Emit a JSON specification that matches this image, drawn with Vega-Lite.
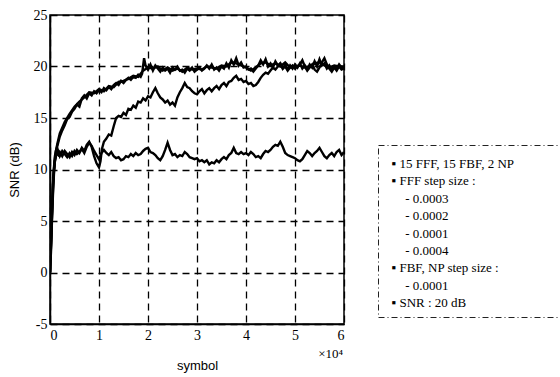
{
  "$schema": "https://vega.github.io/schema/vega-lite/v6.json",
  "background": "white",
  "padding": {"left": 7, "top": 7, "right": 0, "bottom": 0},
  "bounds": "flush",
  "spacing": 34,
  "config": {
    "font": "Times New Roman, Liberation Serif, serif",
    "axis": {
      "labelColor": "black",
      "titleFont": "Arial, Liberation Sans, sans-serif",
      "titleFontSize": 13,
      "titleFontWeight": "normal",
      "titleColor": "black",
      "domainColor": "black",
      "domainWidth": 1.5,
      "ticks": false,
      "grid": true,
      "gridColor": "black",
      "gridOpacity": 1,
      "gridDash": [7, 5],
      "gridWidth": 1.3
    }
  },
  "hconcat": [
    {
      "width": 294,
      "height": 309,
      "view": {"stroke": "black", "strokeWidth": 1.5},
      "layer": [
        {
          "data": {"values": [
{"series":"A","symbol":0,"snr":0},{"series":"A","symbol":0.02,"snr":3},{"series":"A","symbol":0.04,"snr":6},{"series":"A","symbol":0.06,"snr":8.5},{"series":"A","symbol":0.08,"snr":10},{"series":"A","symbol":0.1,"snr":11},{"series":"A","symbol":0.12,"snr":11.8},{"series":"A","symbol":0.15,"snr":12.3},{"series":"A","symbol":0.2,"snr":13.2},{"series":"A","symbol":0.25,"snr":13.8},{"series":"A","symbol":0.3,"snr":14.3},{"series":"A","symbol":0.35,"snr":14.9},{"series":"A","symbol":0.4,"snr":15.1},{"series":"A","symbol":0.45,"snr":15.6},{"series":"A","symbol":0.5,"snr":15.9},{"series":"A","symbol":0.55,"snr":16.3},{"series":"A","symbol":0.6,"snr":16.1},{"series":"A","symbol":0.65,"snr":16.9},{"series":"A","symbol":0.7,"snr":17.2},{"series":"A","symbol":0.75,"snr":16.9},{"series":"A","symbol":0.8,"snr":17.4},{"series":"A","symbol":0.85,"snr":17.2},{"series":"A","symbol":0.9,"snr":17.6},{"series":"A","symbol":0.95,"snr":17.4},{"series":"A","symbol":1.0,"snr":17.7},{"series":"A","symbol":1.05,"snr":17.5},{"series":"A","symbol":1.1,"snr":17.9},{"series":"A","symbol":1.15,"snr":17.7},{"series":"A","symbol":1.2,"snr":18.0},{"series":"A","symbol":1.25,"snr":17.8},{"series":"A","symbol":1.3,"snr":18.2},{"series":"A","symbol":1.35,"snr":18.4},{"series":"A","symbol":1.4,"snr":18.2},{"series":"A","symbol":1.45,"snr":18.6},{"series":"A","symbol":1.5,"snr":18.4},{"series":"A","symbol":1.55,"snr":18.7},{"series":"A","symbol":1.6,"snr":18.9},{"series":"A","symbol":1.65,"snr":18.7},{"series":"A","symbol":1.7,"snr":19.0},{"series":"A","symbol":1.75,"snr":18.9},{"series":"A","symbol":1.8,"snr":19.2},{"series":"A","symbol":1.85,"snr":19.0},{"series":"A","symbol":1.88,"snr":19.3},{"series":"A","symbol":1.92,"snr":20.8},{"series":"A","symbol":1.95,"snr":20.1},{"series":"A","symbol":2.0,"snr":19.7},{"series":"A","symbol":2.05,"snr":20.2},{"series":"A","symbol":2.1,"snr":19.6},{"series":"A","symbol":2.15,"snr":20.1},{"series":"A","symbol":2.2,"snr":19.8},{"series":"A","symbol":2.25,"snr":19.5},{"series":"A","symbol":2.3,"snr":19.9},{"series":"A","symbol":2.35,"snr":19.6},{"series":"A","symbol":2.4,"snr":19.8},{"series":"A","symbol":2.45,"snr":19.4},{"series":"A","symbol":2.5,"snr":19.9},{"series":"A","symbol":2.55,"snr":19.7},{"series":"A","symbol":2.6,"snr":20.0},{"series":"A","symbol":2.65,"snr":19.6},{"series":"A","symbol":2.7,"snr":19.7},{"series":"A","symbol":2.75,"snr":19.4},{"series":"A","symbol":2.8,"snr":19.8},{"series":"A","symbol":2.85,"snr":19.6},{"series":"A","symbol":2.9,"snr":19.9},{"series":"A","symbol":2.95,"snr":19.5},{"series":"A","symbol":3.0,"snr":19.7},{"series":"A","symbol":3.05,"snr":19.9},{"series":"A","symbol":3.1,"snr":19.6},{"series":"A","symbol":3.15,"snr":19.8},{"series":"A","symbol":3.2,"snr":20.1},{"series":"A","symbol":3.25,"snr":19.8},{"series":"A","symbol":3.3,"snr":20.2},{"series":"A","symbol":3.35,"snr":19.7},{"series":"A","symbol":3.4,"snr":19.9},{"series":"A","symbol":3.45,"snr":19.6},{"series":"A","symbol":3.5,"snr":20.0},{"series":"A","symbol":3.55,"snr":19.8},{"series":"A","symbol":3.6,"snr":20.3},{"series":"A","symbol":3.65,"snr":19.9},{"series":"A","symbol":3.7,"snr":20.6},{"series":"A","symbol":3.75,"snr":20.2},{"series":"A","symbol":3.8,"snr":20.8},{"series":"A","symbol":3.85,"snr":20.1},{"series":"A","symbol":3.9,"snr":20.4},{"series":"A","symbol":3.95,"snr":19.9},{"series":"A","symbol":4.0,"snr":20.0},{"series":"A","symbol":4.05,"snr":19.7},{"series":"A","symbol":4.1,"snr":19.8},{"series":"A","symbol":4.15,"snr":19.5},{"series":"A","symbol":4.2,"snr":19.8},{"series":"A","symbol":4.25,"snr":20.1},{"series":"A","symbol":4.3,"snr":20.6},{"series":"A","symbol":4.35,"snr":20.2},{"series":"A","symbol":4.4,"snr":20.7},{"series":"A","symbol":4.45,"snr":20.0},{"series":"A","symbol":4.5,"snr":20.3},{"series":"A","symbol":4.55,"snr":19.9},{"series":"A","symbol":4.6,"snr":20.5},{"series":"A","symbol":4.65,"snr":20.1},{"series":"A","symbol":4.7,"snr":20.3},{"series":"A","symbol":4.75,"snr":19.8},{"series":"A","symbol":4.8,"snr":20.2},{"series":"A","symbol":4.85,"snr":19.7},{"series":"A","symbol":4.9,"snr":20.1},{"series":"A","symbol":4.95,"snr":19.8},{"series":"A","symbol":5.0,"snr":20.2},{"series":"A","symbol":5.05,"snr":19.9},{"series":"A","symbol":5.1,"snr":20.3},{"series":"A","symbol":5.15,"snr":19.8},{"series":"A","symbol":5.2,"snr":20.1},{"series":"A","symbol":5.25,"snr":19.7},{"series":"A","symbol":5.3,"snr":20.2},{"series":"A","symbol":5.35,"snr":19.9},{"series":"A","symbol":5.4,"snr":20.5},{"series":"A","symbol":5.45,"snr":20.0},{"series":"A","symbol":5.5,"snr":20.7},{"series":"A","symbol":5.55,"snr":20.1},{"series":"A","symbol":5.6,"snr":20.3},{"series":"A","symbol":5.65,"snr":19.8},{"series":"A","symbol":5.7,"snr":20.1},{"series":"A","symbol":5.75,"snr":19.7},{"series":"A","symbol":5.8,"snr":20.0},{"series":"A","symbol":5.85,"snr":19.8},{"series":"A","symbol":5.9,"snr":20.2},{"series":"A","symbol":5.95,"snr":19.9},{"series":"A","symbol":6.0,"snr":19.9},
{"series":"D","symbol":0,"snr":0},{"series":"D","symbol":0.03,"snr":4},{"series":"D","symbol":0.06,"snr":9},{"series":"D","symbol":0.1,"snr":11.3},{"series":"D","symbol":0.15,"snr":12.5},{"series":"D","symbol":0.2,"snr":13.5},{"series":"D","symbol":0.3,"snr":14.6},{"series":"D","symbol":0.4,"snr":15.4},{"series":"D","symbol":0.5,"snr":16.1},{"series":"D","symbol":0.6,"snr":16.6},{"series":"D","symbol":0.7,"snr":17.0},{"series":"D","symbol":0.8,"snr":17.5},{"series":"D","symbol":0.9,"snr":17.4},{"series":"D","symbol":1.0,"snr":17.8},{"series":"D","symbol":1.1,"snr":17.6},{"series":"D","symbol":1.2,"snr":18.1},{"series":"D","symbol":1.3,"snr":18.0},{"series":"D","symbol":1.4,"snr":18.5},{"series":"D","symbol":1.5,"snr":18.6},{"series":"D","symbol":1.6,"snr":18.8},{"series":"D","symbol":1.7,"snr":19.1},{"series":"D","symbol":1.8,"snr":19.0},{"series":"D","symbol":1.9,"snr":19.6},{"series":"D","symbol":2.0,"snr":19.9},{"series":"D","symbol":2.1,"snr":19.8},{"series":"D","symbol":2.2,"snr":20.0},{"series":"D","symbol":2.3,"snr":19.6},{"series":"D","symbol":2.4,"snr":19.9},{"series":"D","symbol":2.5,"snr":19.6},{"series":"D","symbol":2.6,"snr":19.8},{"series":"D","symbol":2.7,"snr":19.5},{"series":"D","symbol":2.8,"snr":19.9},{"series":"D","symbol":2.9,"snr":19.7},{"series":"D","symbol":3.0,"snr":19.8},{"series":"D","symbol":3.1,"snr":19.7},{"series":"D","symbol":3.2,"snr":20.0},{"series":"D","symbol":3.3,"snr":19.9},{"series":"D","symbol":3.4,"snr":19.8},{"series":"D","symbol":3.5,"snr":20.1},{"series":"D","symbol":3.6,"snr":20.0},{"series":"D","symbol":3.7,"snr":20.4},{"series":"D","symbol":3.8,"snr":20.3},{"series":"D","symbol":3.9,"snr":20.1},{"series":"D","symbol":4.0,"snr":19.9},{"series":"D","symbol":4.1,"snr":19.6},{"series":"D","symbol":4.2,"snr":19.9},{"series":"D","symbol":4.3,"snr":20.3},{"series":"D","symbol":4.4,"snr":20.4},{"series":"D","symbol":4.5,"snr":20.1},{"series":"D","symbol":4.6,"snr":20.3},{"series":"D","symbol":4.7,"snr":20.0},{"series":"D","symbol":4.8,"snr":20.4},{"series":"D","symbol":4.9,"snr":19.9},{"series":"D","symbol":5.0,"snr":20.0},{"series":"D","symbol":5.1,"snr":20.1},{"series":"D","symbol":5.2,"snr":19.9},{"series":"D","symbol":5.3,"snr":20.0},{"series":"D","symbol":5.4,"snr":20.3},{"series":"D","symbol":5.5,"snr":20.4},{"series":"D","symbol":5.6,"snr":20.1},{"series":"D","symbol":5.7,"snr":19.9},{"series":"D","symbol":5.8,"snr":20.1},{"series":"D","symbol":5.9,"snr":20.0},{"series":"D","symbol":6.0,"snr":20.0},
{"series":"B","symbol":0,"snr":0},{"series":"B","symbol":0.02,"snr":2.5},{"series":"B","symbol":0.04,"snr":5.5},{"series":"B","symbol":0.06,"snr":8},{"series":"B","symbol":0.08,"snr":9.8},{"series":"B","symbol":0.1,"snr":10.8},{"series":"B","symbol":0.13,"snr":11.6},{"series":"B","symbol":0.17,"snr":11.4},{"series":"B","symbol":0.2,"snr":11.7},{"series":"B","symbol":0.25,"snr":11.3},{"series":"B","symbol":0.3,"snr":11.8},{"series":"B","symbol":0.35,"snr":11.5},{"series":"B","symbol":0.4,"snr":11.2},{"series":"B","symbol":0.45,"snr":11.7},{"series":"B","symbol":0.5,"snr":11.4},{"series":"B","symbol":0.55,"snr":11.9},{"series":"B","symbol":0.6,"snr":11.6},{"series":"B","symbol":0.65,"snr":12.1},{"series":"B","symbol":0.7,"snr":11.8},{"series":"B","symbol":0.75,"snr":12.4},{"series":"B","symbol":0.8,"snr":12.7},{"series":"B","symbol":0.85,"snr":12.2},{"series":"B","symbol":0.9,"snr":11.3},{"series":"B","symbol":0.95,"snr":10.6},{"series":"B","symbol":1.0,"snr":10.2},{"series":"B","symbol":1.03,"snr":10.8},{"series":"B","symbol":1.06,"snr":12.0},{"series":"B","symbol":1.1,"snr":12.7},{"series":"B","symbol":1.15,"snr":13.0},{"series":"B","symbol":1.2,"snr":13.4},{"series":"B","symbol":1.25,"snr":13.3},{"series":"B","symbol":1.3,"snr":14.2},{"series":"B","symbol":1.35,"snr":15.0},{"series":"B","symbol":1.4,"snr":15.2},{"series":"B","symbol":1.45,"snr":15.1},{"series":"B","symbol":1.5,"snr":15.5},{"series":"B","symbol":1.55,"snr":15.3},{"series":"B","symbol":1.6,"snr":15.9},{"series":"B","symbol":1.65,"snr":15.8},{"series":"B","symbol":1.7,"snr":16.2},{"series":"B","symbol":1.75,"snr":16.0},{"series":"B","symbol":1.8,"snr":16.6},{"series":"B","symbol":1.85,"snr":16.5},{"series":"B","symbol":1.9,"snr":16.9},{"series":"B","symbol":1.95,"snr":16.7},{"series":"B","symbol":2.0,"snr":17.1},{"series":"B","symbol":2.05,"snr":17.0},{"series":"B","symbol":2.1,"snr":17.5},{"series":"B","symbol":2.15,"snr":17.9},{"series":"B","symbol":2.2,"snr":17.4},{"series":"B","symbol":2.25,"snr":17.0},{"series":"B","symbol":2.3,"snr":16.8},{"series":"B","symbol":2.35,"snr":16.5},{"series":"B","symbol":2.4,"snr":16.7},{"series":"B","symbol":2.45,"snr":16.3},{"series":"B","symbol":2.5,"snr":16.5},{"series":"B","symbol":2.55,"snr":16.2},{"series":"B","symbol":2.6,"snr":17.0},{"series":"B","symbol":2.65,"snr":17.5},{"series":"B","symbol":2.7,"snr":17.9},{"series":"B","symbol":2.75,"snr":18.4},{"series":"B","symbol":2.8,"snr":18.0},{"series":"B","symbol":2.85,"snr":17.9},{"series":"B","symbol":2.9,"snr":17.6},{"series":"B","symbol":2.95,"snr":17.4},{"series":"B","symbol":3.0,"snr":17.3},{"series":"B","symbol":3.05,"snr":17.6},{"series":"B","symbol":3.1,"snr":17.8},{"series":"B","symbol":3.15,"snr":17.4},{"series":"B","symbol":3.2,"snr":17.7},{"series":"B","symbol":3.25,"snr":17.9},{"series":"B","symbol":3.3,"snr":17.6},{"series":"B","symbol":3.35,"snr":17.9},{"series":"B","symbol":3.4,"snr":18.1},{"series":"B","symbol":3.45,"snr":17.8},{"series":"B","symbol":3.5,"snr":18.2},{"series":"B","symbol":3.55,"snr":18.4},{"series":"B","symbol":3.6,"snr":18.1},{"series":"B","symbol":3.65,"snr":18.5},{"series":"B","symbol":3.7,"snr":18.6},{"series":"B","symbol":3.75,"snr":18.9},{"series":"B","symbol":3.8,"snr":19.1},{"series":"B","symbol":3.85,"snr":18.7},{"series":"B","symbol":3.9,"snr":18.8},{"series":"B","symbol":3.95,"snr":18.5},{"series":"B","symbol":4.0,"snr":18.6},{"series":"B","symbol":4.05,"snr":18.3},{"series":"B","symbol":4.1,"snr":18.4},{"series":"B","symbol":4.15,"snr":18.1},{"series":"B","symbol":4.2,"snr":18.2},{"series":"B","symbol":4.25,"snr":18.5},{"series":"B","symbol":4.3,"snr":18.9},{"series":"B","symbol":4.35,"snr":19.2},{"series":"B","symbol":4.4,"snr":19.4},{"series":"B","symbol":4.45,"snr":19.3},{"series":"B","symbol":4.5,"snr":19.6},{"series":"B","symbol":4.55,"snr":19.9},{"series":"B","symbol":4.6,"snr":19.7},{"series":"B","symbol":4.65,"snr":20.0},{"series":"B","symbol":4.7,"snr":20.3},{"series":"B","symbol":4.75,"snr":19.8},{"series":"B","symbol":4.8,"snr":20.0},{"series":"B","symbol":4.85,"snr":19.6},{"series":"B","symbol":4.9,"snr":19.9},{"series":"B","symbol":4.95,"snr":20.1},{"series":"B","symbol":5.0,"snr":19.8},{"series":"B","symbol":5.1,"snr":20.2},{"series":"B","symbol":5.15,"snr":20.6},{"series":"B","symbol":5.2,"snr":20.0},{"series":"B","symbol":5.25,"snr":19.6},{"series":"B","symbol":5.3,"snr":19.9},{"series":"B","symbol":5.35,"snr":20.2},{"series":"B","symbol":5.4,"snr":19.7},{"series":"B","symbol":5.45,"snr":19.5},{"series":"B","symbol":5.5,"snr":19.9},{"series":"B","symbol":5.55,"snr":20.4},{"series":"B","symbol":5.6,"snr":20.8},{"series":"B","symbol":5.65,"snr":20.2},{"series":"B","symbol":5.7,"snr":19.8},{"series":"B","symbol":5.75,"snr":19.5},{"series":"B","symbol":5.8,"snr":19.9},{"series":"B","symbol":5.85,"snr":19.6},{"series":"B","symbol":5.9,"snr":20.0},{"series":"B","symbol":5.95,"snr":19.7},{"series":"B","symbol":6.0,"snr":19.8},
{"series":"C","symbol":0,"snr":0},{"series":"C","symbol":0.02,"snr":2},{"series":"C","symbol":0.04,"snr":5},{"series":"C","symbol":0.06,"snr":7.5},{"series":"C","symbol":0.08,"snr":9.5},{"series":"C","symbol":0.1,"snr":10.8},{"series":"C","symbol":0.13,"snr":11.5},{"series":"C","symbol":0.16,"snr":11.9},{"series":"C","symbol":0.2,"snr":11.3},{"series":"C","symbol":0.25,"snr":11.8},{"series":"C","symbol":0.3,"snr":11.5},{"series":"C","symbol":0.35,"snr":11.2},{"series":"C","symbol":0.4,"snr":11.6},{"series":"C","symbol":0.45,"snr":11.3},{"series":"C","symbol":0.5,"snr":11.8},{"series":"C","symbol":0.55,"snr":11.5},{"series":"C","symbol":0.6,"snr":11.7},{"series":"C","symbol":0.65,"snr":12.0},{"series":"C","symbol":0.7,"snr":11.6},{"series":"C","symbol":0.75,"snr":12.2},{"series":"C","symbol":0.8,"snr":12.6},{"series":"C","symbol":0.85,"snr":12.3},{"series":"C","symbol":0.9,"snr":11.8},{"series":"C","symbol":0.95,"snr":11.4},{"series":"C","symbol":1.0,"snr":11.0},{"series":"C","symbol":1.05,"snr":11.6},{"series":"C","symbol":1.1,"snr":11.9},{"series":"C","symbol":1.15,"snr":11.6},{"series":"C","symbol":1.2,"snr":11.4},{"series":"C","symbol":1.25,"snr":11.7},{"series":"C","symbol":1.3,"snr":11.3},{"series":"C","symbol":1.35,"snr":11.1},{"series":"C","symbol":1.4,"snr":11.2},{"series":"C","symbol":1.45,"snr":10.9},{"series":"C","symbol":1.5,"snr":11.0},{"series":"C","symbol":1.55,"snr":11.3},{"series":"C","symbol":1.6,"snr":11.2},{"series":"C","symbol":1.65,"snr":11.5},{"series":"C","symbol":1.7,"snr":11.3},{"series":"C","symbol":1.75,"snr":11.6},{"series":"C","symbol":1.8,"snr":11.4},{"series":"C","symbol":1.85,"snr":11.5},{"series":"C","symbol":1.9,"snr":11.8},{"series":"C","symbol":1.95,"snr":12.0},{"series":"C","symbol":2.0,"snr":12.1},{"series":"C","symbol":2.05,"snr":11.7},{"series":"C","symbol":2.1,"snr":11.6},{"series":"C","symbol":2.15,"snr":11.4},{"series":"C","symbol":2.2,"snr":11.1},{"series":"C","symbol":2.25,"snr":10.9},{"series":"C","symbol":2.3,"snr":11.3},{"series":"C","symbol":2.35,"snr":11.9},{"series":"C","symbol":2.4,"snr":12.6},{"series":"C","symbol":2.45,"snr":11.9},{"series":"C","symbol":2.5,"snr":11.4},{"series":"C","symbol":2.55,"snr":11.5},{"series":"C","symbol":2.6,"snr":11.2},{"series":"C","symbol":2.65,"snr":11.4},{"series":"C","symbol":2.7,"snr":11.3},{"series":"C","symbol":2.75,"snr":11.7},{"series":"C","symbol":2.8,"snr":11.5},{"series":"C","symbol":2.85,"snr":11.2},{"series":"C","symbol":2.9,"snr":11.1},{"series":"C","symbol":2.95,"snr":11.0},{"series":"C","symbol":3.0,"snr":11.1},{"series":"C","symbol":3.05,"snr":10.8},{"series":"C","symbol":3.1,"snr":10.9},{"series":"C","symbol":3.15,"snr":10.7},{"series":"C","symbol":3.2,"snr":10.9},{"series":"C","symbol":3.25,"snr":10.5},{"series":"C","symbol":3.3,"snr":10.7},{"series":"C","symbol":3.35,"snr":10.6},{"series":"C","symbol":3.4,"snr":10.9},{"series":"C","symbol":3.45,"snr":10.7},{"series":"C","symbol":3.5,"snr":11.0},{"series":"C","symbol":3.55,"snr":11.2},{"series":"C","symbol":3.6,"snr":11.0},{"series":"C","symbol":3.65,"snr":11.4},{"series":"C","symbol":3.7,"snr":11.6},{"series":"C","symbol":3.75,"snr":12.1},{"series":"C","symbol":3.8,"snr":11.6},{"series":"C","symbol":3.85,"snr":11.5},{"series":"C","symbol":3.9,"snr":11.7},{"series":"C","symbol":3.95,"snr":11.5},{"series":"C","symbol":4.0,"snr":11.6},{"series":"C","symbol":4.05,"snr":11.4},{"series":"C","symbol":4.1,"snr":11.7},{"series":"C","symbol":4.15,"snr":11.5},{"series":"C","symbol":4.2,"snr":11.2},{"series":"C","symbol":4.25,"snr":11.3},{"series":"C","symbol":4.3,"snr":11.1},{"series":"C","symbol":4.35,"snr":11.5},{"series":"C","symbol":4.4,"snr":11.8},{"series":"C","symbol":4.45,"snr":11.7},{"series":"C","symbol":4.5,"snr":11.9},{"series":"C","symbol":4.55,"snr":12.2},{"series":"C","symbol":4.6,"snr":12.4},{"series":"C","symbol":4.65,"snr":12.3},{"series":"C","symbol":4.7,"snr":12.7},{"series":"C","symbol":4.75,"snr":12.2},{"series":"C","symbol":4.8,"snr":11.6},{"series":"C","symbol":4.85,"snr":11.4},{"series":"C","symbol":4.9,"snr":11.3},{"series":"C","symbol":4.95,"snr":11.2},{"series":"C","symbol":5.0,"snr":11.1},{"series":"C","symbol":5.05,"snr":10.9},{"series":"C","symbol":5.1,"snr":10.8},{"series":"C","symbol":5.15,"snr":11.0},{"series":"C","symbol":5.2,"snr":11.4},{"series":"C","symbol":5.25,"snr":11.8},{"series":"C","symbol":5.3,"snr":11.6},{"series":"C","symbol":5.35,"snr":11.3},{"series":"C","symbol":5.4,"snr":11.6},{"series":"C","symbol":5.45,"snr":11.8},{"series":"C","symbol":5.5,"snr":12.1},{"series":"C","symbol":5.55,"snr":11.7},{"series":"C","symbol":5.6,"snr":11.3},{"series":"C","symbol":5.65,"snr":11.1},{"series":"C","symbol":5.7,"snr":11.4},{"series":"C","symbol":5.75,"snr":11.6},{"series":"C","symbol":5.8,"snr":11.3},{"series":"C","symbol":5.85,"snr":11.7},{"series":"C","symbol":5.9,"snr":11.9},{"series":"C","symbol":5.95,"snr":11.4},{"series":"C","symbol":6.0,"snr":11.7}
          ]},
          "mark": {"type": "line", "color": "black", "strokeWidth": 2.4, "clip": true},
          "encoding": {
            "x": {"field": "symbol", "type": "quantitative",
                  "scale": {"domain": [0, 6], "nice": false},
                  "axis": {"values": [0,1,2,3,4,5,6], "title": "symbol", "labelFont": "Times New Roman, Liberation Serif, serif", "labelFontSize": 14, "labelPadding": 4, "titlePadding": 17, "labelExpr": "'' + datum.value"}},
            "y": {"field": "snr", "type": "quantitative",
                  "scale": {"domain": [-5, 25], "nice": false, "zero": false},
                  "axis": {"values": [-5,0,5,10,15,20,25], "title": "SNR (dB)", "labelFont": "Times New Roman, Liberation Serif, serif", "labelFontSize": 14, "labelPadding": 3, "titlePadding": 12, "labelExpr": "'' + datum.value"}},
            "detail": {"field": "series"}
          }
        },
        {
          "data": {"values": [{"t": "×10⁴"}]},
          "mark": {"type": "text", "font": "Times New Roman, Liberation Serif, serif", "fontSize": 13, "align": "right", "baseline": "top", "dy": 24, "dx": -1, "color": "black", "clip": false},
          "encoding": {
            "x": {"datum": 6},
            "y": {"datum": -5},
            "text": {"field": "t"}
          }
        }
      ]
    },
    {
      "spacing": 0,
      "bounds": "flush",
      "vconcat": [
        {
          "width": 190,
          "height": 130,
          "view": {"stroke": null},
          "data": {"values": []},
          "mark": "text",
          "encoding": {}
        },
        {
          "width": 190,
          "height": 172,
          "view": {"stroke": "#222", "strokeWidth": 1, "strokeDash": [6, 3, 1, 3]},
          "data": {"values": [
            {"line": 1, "level": 0, "label": "▪ 15 FFF, 15 FBF, 2 NP"},
            {"line": 2, "level": 0, "label": "▪ FFF step size :"},
            {"line": 3, "level": 1, "label": "-  0.0003"},
            {"line": 4, "level": 1, "label": "-  0.0002"},
            {"line": 5, "level": 1, "label": "-  0.0001"},
            {"line": 6, "level": 1, "label": "-  0.0004"},
            {"line": 7, "level": 0, "label": "▪ FBF, NP step size :"},
            {"line": 8, "level": 1, "label": "-  0.0001"},
            {"line": 9, "level": 0, "label": "▪ SNR : 20 dB"}
          ]},
          "mark": {"type": "text", "font": "Times New Roman, Liberation Serif, serif", "fontSize": 13, "align": "left", "baseline": "middle", "color": "black"},
          "encoding": {
            "x": {"field": "level", "type": "quantitative", "scale": {"domain": [-1, 13], "nice": false, "zero": false}, "axis": null},
            "y": {"field": "line", "type": "quantitative", "scale": {"domain": [-0.094, 9.806], "nice": false, "zero": false, "reverse": true}, "axis": null},
            "text": {"field": "label"}
          }
        }
      ]
    }
  ]
}
